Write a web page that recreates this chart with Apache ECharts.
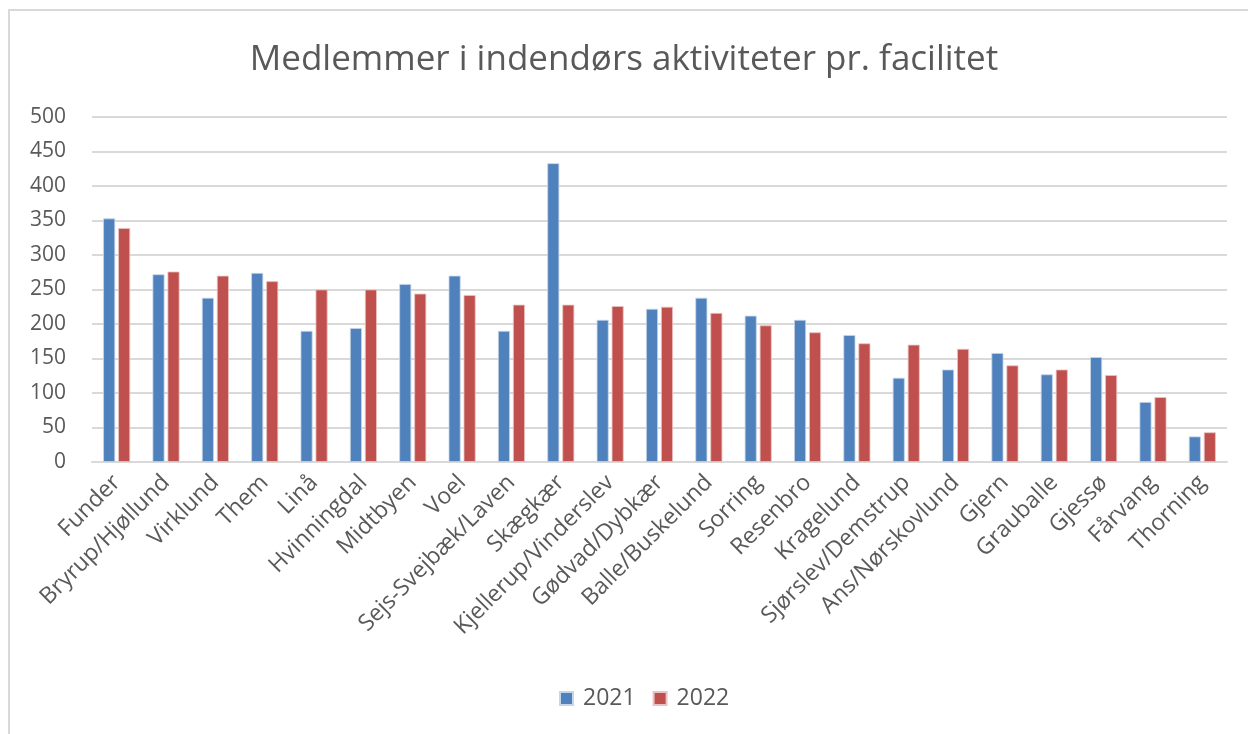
<!DOCTYPE html>
<html>
<head>
<meta charset="utf-8">
<script src="https://cdn.jsdelivr.net/npm/echarts@6/dist/echarts.min.js"></script>
<style>
    html, body { margin: 0; padding: 0; background: #fff; }
    #frame { position: absolute; left: 8px; top: 9px; width: 1240px; height: 725px; border-left: 2px solid #d9d9d9; border-top: 2px solid #d9d9d9; box-sizing: border-box; }
    #chart { position: absolute; left: 0; top: 0; width: 1248px; height: 734px; }
</style>
</head>
<body>
<div id="frame"></div>
<div id="chart"></div>
<script>
const categories = ['Funder', 'Bryrup/Hjøllund', 'Virklund', 'Them', 'Linå', 'Hvinningdal', 'Midtbyen', 'Voel',
    'Sejs-Svejbæk/Laven', 'Skægkær', 'Kjellerup/Vinderslev', 'Gødvad/Dybkær', 'Balle/Buskelund', 'Sorring',
    'Resenbro', 'Kragelund', 'Sjørslev/Demstrup', 'Ans/Nørskovlund', 'Gjern', 'Grauballe', 'Gjessø', 'Fårvang', 'Thorning'];
const values2021 = [353, 272, 238, 274, 190, 194, 258, 270, 190, 433, 206, 222, 238, 212, 206, 184, 122, 134, 158, 127, 152, 87, 37];
const values2022 = [339, 276, 270, 262, 250, 250, 244, 242, 228, 228, 226, 225, 216, 198, 188, 172, 170, 164, 140, 134, 126, 94, 43];
const seriesNames = ['2021', '2022'];

const FONT = '"Open Sans", Lato, sans-serif';
const TEXT = '#595959';

const chart = echarts.init(document.getElementById('chart'));

chart.setOption({
    animation: false,
    title: {
        text: 'Medlemmer i indendørs aktiviteter pr. facilitet',
        left: 'center',
        top: 38,
        textStyle: { fontFamily: FONT, fontSize: 35, fontWeight: 'normal', color: TEXT }
    },
    legend: {
        data: seriesNames,
        bottom: 19,
        left: 554,
        icon: 'rect',
        itemWidth: 13,
        itemHeight: 13,
        itemGap: 17,
        textStyle: { fontFamily: FONT, fontSize: 23, color: TEXT, padding: [0, 0, 0, 5] }
    },
    grid: { left: 92, right: 21, top: 117, bottom: 272 },
    xAxis: {
        type: 'category',
        data: categories,
        axisLine: { lineStyle: { color: '#d9d9d9', width: 2 } },
        axisTick: { show: false },
        axisLabel: { interval: 0, rotate: 45, margin: 17, fontFamily: FONT, fontSize: 23, color: TEXT }
    },
    yAxis: {
        type: 'value',
        min: 0,
        max: 500,
        interval: 50,
        axisLine: { show: false },
        axisTick: { show: false },
        axisLabel: { margin: 26, fontFamily: FONT, fontSize: 21, color: TEXT },
        splitLine: { lineStyle: { color: '#d9d9d9', width: 2 } }
    },
    series: [
        {
            name: seriesNames[0], type: 'bar', data: values2021,
            barWidth: 12, barGap: '25%',
            itemStyle: { color: '#4f81bd', borderColor: '#c6d6ea', borderWidth: 0.8 }
        },
        {
            name: seriesNames[1], type: 'bar', data: values2022,
            barWidth: 12,
            itemStyle: { color: '#c0504d', borderColor: '#eac4c3', borderWidth: 0.8 }
        }
    ]
});
</script>
</body>
</html>
